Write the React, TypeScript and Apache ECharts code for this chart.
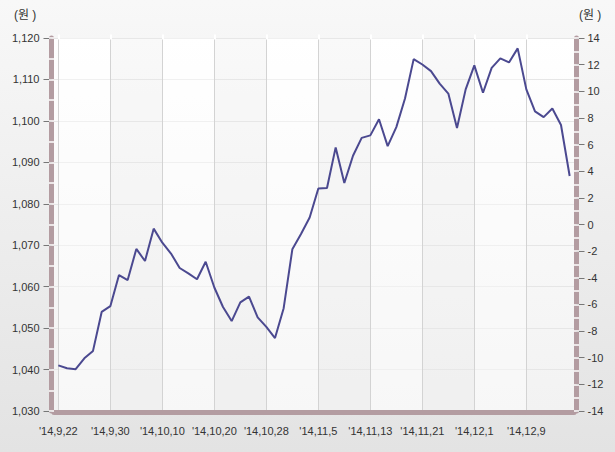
import React, { useEffect, useRef } from "react";
import * as echarts from "echarts";

const categories: string[] = [
  "'14,9,22", "'14,9,23", "'14,9,24", "'14,9,25", "'14,9,26", "'14,9,29", "'14,9,30",
  "'14,10,1", "'14,10,2", "'14,10,6", "'14,10,7", "'14,10,8", "'14,10,10",
  "'14,10,13", "'14,10,14", "'14,10,15", "'14,10,16", "'14,10,17", "'14,10,20",
  "'14,10,21", "'14,10,22", "'14,10,23", "'14,10,24", "'14,10,27", "'14,10,28",
  "'14,10,29", "'14,10,30", "'14,10,31", "'14,11,3", "'14,11,4", "'14,11,5",
  "'14,11,6", "'14,11,7", "'14,11,10", "'14,11,11", "'14,11,12", "'14,11,13",
  "'14,11,14", "'14,11,17", "'14,11,18", "'14,11,19", "'14,11,20", "'14,11,21",
  "'14,11,24", "'14,11,25", "'14,11,26", "'14,11,27", "'14,11,28", "'14,12,1",
  "'14,12,2", "'14,12,3", "'14,12,4", "'14,12,5", "'14,12,8", "'14,12,9",
  "'14,12,10", "'14,12,11", "'14,12,12", "'14,12,15", "'14,12,16",
];

const rateValues: number[] = [
  1041.0, 1040.3, 1040.1, 1042.7, 1044.5, 1053.9, 1055.3, 1062.8, 1061.6, 1069.1,
  1066.2, 1074.0, 1070.6, 1068.0, 1064.5, 1063.2, 1061.8, 1066.0, 1059.8, 1055.1,
  1051.7, 1056.2, 1057.6, 1052.6, 1050.3, 1047.6, 1054.8, 1069.0, 1072.7, 1076.7,
  1083.7, 1083.8, 1093.6, 1085.0, 1091.6, 1095.9, 1096.5, 1100.4, 1093.9, 1098.5,
  1105.4, 1114.9, 1113.6, 1112.0, 1109.0, 1106.6, 1098.3, 1107.6, 1113.4, 1106.8,
  1112.8, 1115.1, 1114.1, 1117.5, 1107.6, 1102.3, 1100.9, 1103.0, 1099.0, 1086.7,
];

const leftAxis = { min: 1030, max: 1120, step: 10, minorStep: 5 };
const rightAxis = { min: -14, max: 14, step: 2, minorStep: 1 };
const unitLabel = "(원 )";

const FONT = "'Liberation Sans', Arial, 'Noto Sans CJK KR', sans-serif";
const BAR = "#b39ca1";
const TEXT = "#333333";

export default function App() {
  const ref = useRef<HTMLDivElement>(null);

  useEffect(() => {
    if (!ref.current) return;
    const chart = echarts.init(ref.current, undefined, { renderer: "svg" });
    const labelStyle = { color: TEXT, fontSize: 11, fontFamily: FONT };
    chart.setOption({
      animation: false,
      grid: {
        left: 54,
        right: 41,
        top: 38,
        bottom: 41,
        show: true,
        borderWidth: 0,
        backgroundColor: new echarts.graphic.LinearGradient(0, 0, 0, 1, [
          { offset: 0, color: "#ffffff" },
          { offset: 1, color: "#f2f2f2" },
        ]),
      },
      graphic: [
        { type: "text", left: 14, top: 9, style: { text: unitLabel, fill: TEXT, font: `12px ${FONT}` } },
        { type: "text", left: 579, top: 9, style: { text: unitLabel, fill: TEXT, font: `12px ${FONT}` } },
      ],
      xAxis: [
        {
          type: "category",
          data: categories,
          boundaryGap: true,
          offset: 1,
          axisLine: { show: true, onZero: false, lineStyle: { color: BAR, width: 5 } },
          axisTick: { show: false },
          axisLabel: { ...labelStyle, interval: 5, margin: 13 },
          splitLine: { show: true, interval: 5, alignWithLabel: true, lineStyle: { color: "#d3d3d3", width: 1 } },
          splitArea: {
            show: true,
            interval: 5,
            alignWithLabel: true,
            areaStyle: { color: ["rgba(255,255,255,0.4)", "rgba(236,236,236,0.3)"] },
          },
        },
        {
          type: "category",
          data: categories,
          boundaryGap: true,
          offset: -1.5,
          axisLine: { show: false, onZero: false },
          axisTick: { show: true, alignWithLabel: true, interval: 5, length: 5, lineStyle: { color: "#ffffff", width: 2 } },
          axisLabel: { show: false },
          splitLine: { show: false },
        },
      ],
      yAxis: [
        {
          type: "value",
          position: "left",
          min: leftAxis.min,
          max: leftAxis.max,
          interval: leftAxis.step,
          offset: 2.5,
          axisLine: { show: true, onZero: false, lineStyle: { color: BAR, width: 5 } },
          axisTick: { show: true, length: 8, lineStyle: { color: "#777777", width: 1 } },
          axisLabel: { ...labelStyle, margin: 12, formatter: (v: number) => v.toLocaleString("en-US") },
          splitLine: { show: true, lineStyle: { color: "#e6e6e6", width: 1 } },
        },
        {
          type: "value",
          position: "left",
          min: leftAxis.min,
          max: leftAxis.max,
          interval: leftAxis.minorStep,
          offset: 0,
          axisLine: { show: false, onZero: false },
          axisTick: { show: true, length: 5, lineStyle: { color: "#ffffff", width: 1.5 } },
          axisLabel: { show: false },
          splitLine: { show: false },
        },
        {
          type: "value",
          position: "right",
          min: rightAxis.min,
          max: rightAxis.max,
          interval: rightAxis.step,
          offset: 2.5,
          axisLine: { show: true, onZero: false, lineStyle: { color: BAR, width: 5 } },
          axisTick: { show: true, length: 8, lineStyle: { color: "#777777", width: 1 } },
          axisLabel: { ...labelStyle, margin: 11 },
          splitLine: { show: false },
        },
        {
          type: "value",
          position: "right",
          min: rightAxis.min,
          max: rightAxis.max,
          interval: rightAxis.minorStep,
          offset: 0,
          axisLine: { show: false, onZero: false },
          axisTick: { show: true, length: 5, lineStyle: { color: "#ffffff", width: 1.5 } },
          axisLabel: { show: false },
          splitLine: { show: false },
        },
      ],
      series: [
        {
          type: "line",
          xAxisIndex: 0,
          yAxisIndex: 0,
          data: rateValues,
          showSymbol: false,
          symbol: "none",
          z: 10,
          lineStyle: { color: "#4b4990", width: 2 },
        },
      ],
    });
    return () => chart.dispose();
  }, []);

  return (
    <div
      ref={ref}
      style={{
        position: "fixed",
        left: 0,
        top: 0,
        width: 615,
        height: 452,
        background: "linear-gradient(#f8f8f8, #e3e3e3)",
      }}
    />
  );
}
